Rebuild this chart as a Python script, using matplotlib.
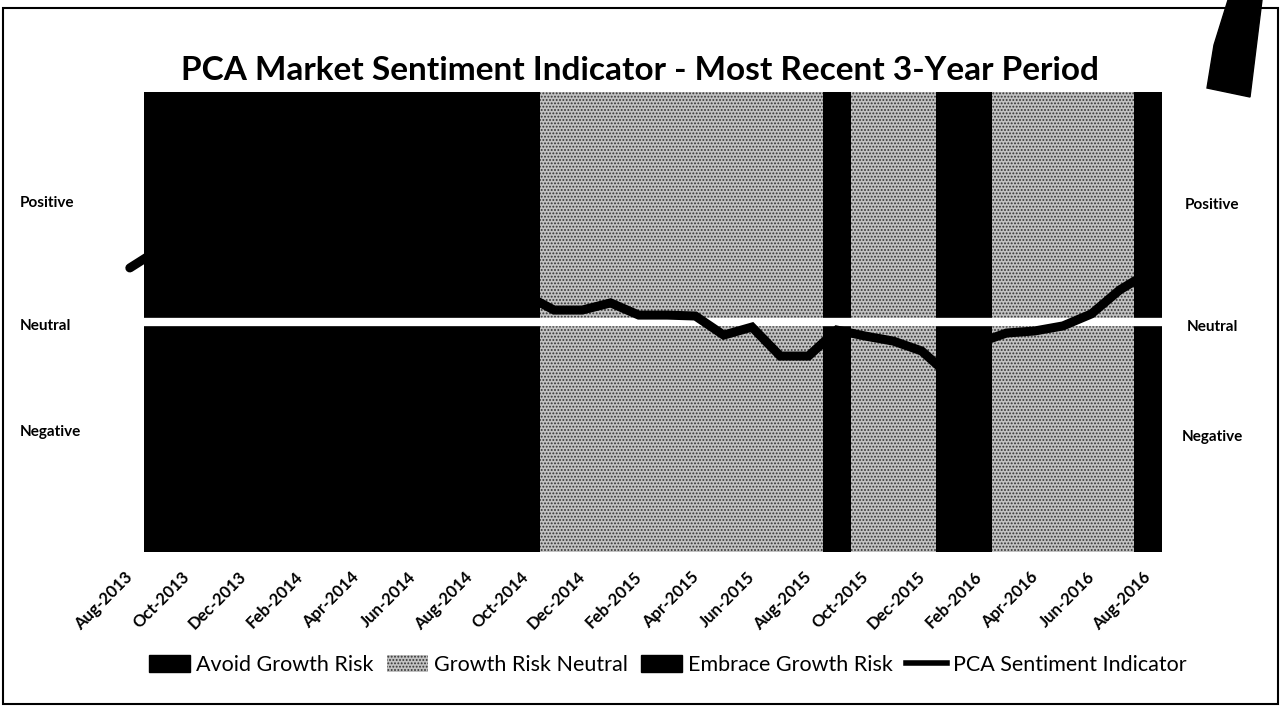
import numpy as np
import matplotlib
matplotlib.use("Agg")
import matplotlib.pyplot as plt
import matplotlib.transforms as mtransforms
from matplotlib.patches import Patch, Rectangle, Polygon
from matplotlib.lines import Line2D

plt.rcParams["font.family"] = ["Lato", "DejaVu Sans"]
plt.rcParams["hatch.linewidth"] = 0.9

# Monthly data, Aug-2013 .. Aug-2016 (index 0 .. 36)
sentiment = [
    0.235, 0.313, 0.33, 0.35, 0.36, 0.34, 0.30, 0.28, 0.25, 0.22, 0.20, 0.18, 0.15,
    0.13, 0.117, 0.052, 0.052, 0.083, 0.030, 0.030, 0.026, -0.057, -0.022, -0.148,
    -0.148, -0.035, -0.061, -0.083, -0.126, -0.235, -0.091, -0.048, -0.039, -0.017,
    0.035, 0.139, 0.213,
]

# regime per month: "" none, "A" avoid, "N" neutral, "E" embrace
regime = [
    "",
    "E", "E", "E", "E", "E", "E", "E", "E", "E", "E", "E", "E", "E", "E",
    "N", "N", "N", "N", "N", "N", "N", "N", "N", "N",
    "A",
    "N", "N", "N",
    "A", "A",
    "N", "N", "N", "N", "N",
    "E",
]

tick_labels = [
    "Aug-2013", "Oct-2013", "Dec-2013", "Feb-2014", "Apr-2014", "Jun-2014",
    "Aug-2014", "Oct-2014", "Dec-2014", "Feb-2015", "Apr-2015", "Jun-2015",
    "Aug-2015", "Oct-2015", "Dec-2015", "Feb-2016", "Apr-2016", "Jun-2016",
    "Aug-2016",
]

NEUTRAL_FACE = "#c2c2c2"
NEUTRAL_DOTS = "#333333"

W, H = 1281, 707
fig = plt.figure(figsize=(W / 100, H / 100), dpi=100)
fig.patch.set_facecolor("white")

ax = fig.add_axes([127 / W, 1 - 552 / H, (1162 - 127) / W, 460 / H])
ax.set_facecolor("white")

x = np.arange(len(sentiment))
reg = np.array(regime)

black_style = dict(color="black", linewidth=0, width=1.02, zorder=1)
neutral_style = dict(facecolor=NEUTRAL_FACE, edgecolor=NEUTRAL_DOTS, hatch=".....",
                     linewidth=0, width=1.02, zorder=1)

ax.bar(x[reg == "A"], 2, bottom=-1, **black_style)
ax.bar(x[reg == "E"], 2, bottom=-1, **black_style)
ax.bar(x[reg == "N"], 2, bottom=-1, **neutral_style)

# neutral divider
ax.axhline(0, color="white", lw=6, zorder=2)

ax.plot(x, sentiment, color="black", lw=6.5, solid_capstyle="round",
        solid_joinstyle="miter", zorder=3, clip_on=False)

ax.set_xlim(-0.1, 36.5)
ax.set_ylim(-1, 1)
ax.set_yticks([])
ax.set_xticks(x[::2])
ax.set_xticklabels(tick_labels, rotation=45, ha="right", rotation_mode="anchor",
                   fontsize=12, fontweight="bold")
ax.tick_params(axis="x", length=0, pad=12)
shift = mtransforms.ScaledTranslation(-5 / 100, 0, fig.dpi_scale_trans)
for lbl in ax.get_xticklabels():
    lbl.set_transform(lbl.get_transform() + shift)
for s in ax.spines.values():
    s.set_visible(False)

# side labels
for label, yl, yr in [("Positive", 203, 205), ("Neutral", 326, 327), ("Negative", 432, 437)]:
    fig.text(20 / W, 1 - yl / H, label, ha="left", va="center", fontsize=11, fontweight="bold")
    fig.text(1212 / W, 1 - yr / H, label, ha="center", va="center", fontsize=11, fontweight="bold")

fig.text(640 / W, 1 - 70 / H, "PCA Market Sentiment Indicator - Most Recent 3-Year Period",
         ha="center", va="center", fontsize=24, fontweight="bold")

handles = [
    Patch(facecolor="black", edgecolor="black", label="Avoid Growth Risk"),
    Patch(facecolor=NEUTRAL_FACE, edgecolor=NEUTRAL_DOTS, hatch=".....", linewidth=0,
          label="Growth Risk Neutral"),
    Patch(facecolor="black", edgecolor="black", label="Embrace Growth Risk"),
    Line2D([0], [0], color="black", lw=4, label="PCA Sentiment Indicator"),
]
fig.legend(handles=handles, loc="center", bbox_to_anchor=(668 / W, 1 - 665 / H),
           ncol=4, frameon=False, fontsize=15.5, handlelength=1.9, handleheight=0.8,
           handletextpad=0.3, columnspacing=0.6)

# frame and hand-drawn mark
fig.add_artist(Rectangle((3 / W, 1 - 704 / H), 1275 / W, 696 / H, transform=fig.transFigure,
                         fill=False, edgecolor="black", lw=1.5))
mark = [(1228, 0), (1262, 0), (1250, 97), (1207, 88), (1214, 45)]
fig.add_artist(Polygon([(px / W, 1 - py / H) for px, py in mark], closed=True,
                       transform=fig.transFigure, facecolor="black", edgecolor="black"))

fig.savefig("out.png", dpi=100)
